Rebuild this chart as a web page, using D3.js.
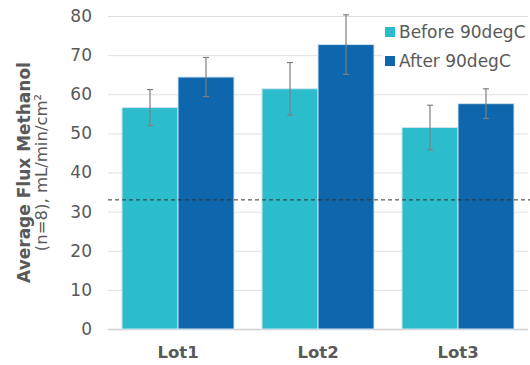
<!DOCTYPE html>
<html>
<head>
<meta charset="utf-8">
<script src="https://cdn.jsdelivr.net/npm/d3@7"></script>
<style>
  html, body { margin: 0; padding: 0; background: #fff; }
  svg { display: block; font-family: "DejaVu Sans", Verdana, sans-serif; }
</style>
</head>
<body>
<svg id="chart" width="530" height="365"></svg>
<script>
// Average methanol flux per lot, before and after the 90degC treatment
const lots = ["Lot1", "Lot2", "Lot3"];
const seriesNames = ["Before 90degC", "After 90degC"];
const beforeValues = [56.6, 61.4, 51.5];
const afterValues = [64.4, 72.7, 57.6];
const beforeErrors = [4.6, 6.7, 5.7];
const afterErrors = [5.0, 7.6, 3.8];
const yTicks = [0, 10, 20, 30, 40, 50, 60, 70, 80];
const referenceLevel = 33;

const colors = ["#2bbdcb", "#0e66ac"];
const textGrey = "#595959";

const svg = d3.select("#chart");
const margin = { top: 16, right: 2, bottom: 36, left: 108 };
const width = 530 - margin.left - margin.right;
const height = 365 - margin.top - margin.bottom;

const g = svg.append("g").attr("transform", `translate(${margin.left},${margin.top})`);

const x0 = d3.scaleBand().domain(lots).range([0, width]).paddingInner(0.2).paddingOuter(0.1);
const x1 = d3.scaleBand().domain(seriesNames).range([0, x0.bandwidth()]);
const y = d3.scaleLinear().domain([0, 80]).range([height, 0]);

// horizontal gridlines
g.append("g")
  .selectAll("line")
  .data(yTicks)
  .join("line")
  .attr("x1", 0)
  .attr("x2", width)
  .attr("y1", d => y(d) + 0.5)
  .attr("y2", d => y(d) + 0.5)
  .attr("stroke", d => d === 0 ? "#d0d0d0" : "#e0e0e0")
  .attr("stroke-width", d => d === 0 ? 1.5 : 1);

// y axis tick labels
const yAxis = d3.axisLeft(y).tickValues(yTicks).tickSize(0).tickPadding(16);
g.append("g")
  .call(yAxis)
  .call(a => a.select(".domain").remove())
  .selectAll("text")
  .attr("fill", textGrey)
  .style("font-size", "17px")
  .style("font-family", "'DejaVu Sans', Verdana, sans-serif");

// bars
const rows = lots.map((lot, i) => ({
  lot,
  bars: [
    { name: seriesNames[0], value: beforeValues[i], err: beforeErrors[i], color: colors[0] },
    { name: seriesNames[1], value: afterValues[i], err: afterErrors[i], color: colors[1] }
  ]
}));

const groups = g.append("g")
  .selectAll("g")
  .data(rows)
  .join("g")
  .attr("transform", d => `translate(${x0(d.lot)},0)`);

groups.selectAll("rect")
  .data(d => d.bars)
  .join("rect")
  .attr("x", d => x1(d.name))
  .attr("width", x1.bandwidth())
  .attr("y", d => y(d.value))
  .attr("height", d => y(0) - y(d.value))
  .attr("fill", d => d.color)
  .attr("stroke", "#cfe2ee")
  .attr("stroke-width", 1);

// error bars
const capHalf = 3;
const err = groups.selectAll("g.err")
  .data(d => d.bars)
  .join("g")
  .attr("class", "err")
  .attr("stroke", "#7f7f7f")
  .attr("stroke-width", 1.2);

err.append("line")
  .attr("x1", d => x1(d.name) + x1.bandwidth() / 2)
  .attr("x2", d => x1(d.name) + x1.bandwidth() / 2)
  .attr("y1", d => y(d.value + d.err))
  .attr("y2", d => y(d.value - d.err));
err.append("line")
  .attr("x1", d => x1(d.name) + x1.bandwidth() / 2 - capHalf)
  .attr("x2", d => x1(d.name) + x1.bandwidth() / 2 + capHalf)
  .attr("y1", d => y(d.value + d.err))
  .attr("y2", d => y(d.value + d.err));
err.append("line")
  .attr("x1", d => x1(d.name) + x1.bandwidth() / 2 - capHalf)
  .attr("x2", d => x1(d.name) + x1.bandwidth() / 2 + capHalf)
  .attr("y1", d => y(d.value - d.err))
  .attr("y2", d => y(d.value - d.err));

// dashed reference level
g.append("line")
  .attr("x1", 0)
  .attr("x2", width + margin.right)
  .attr("y1", y(referenceLevel))
  .attr("y2", y(referenceLevel))
  .attr("stroke", "#333")
  .attr("stroke-width", 1)
  .attr("stroke-dasharray", "4,3");

// category labels
const xAxis = d3.axisBottom(x0).tickSize(0).tickPadding(17);
g.append("g")
  .attr("transform", `translate(0,${height})`)
  .call(xAxis)
  .call(a => a.select(".domain").remove())
  .selectAll("text")
  .attr("fill", textGrey)
  .style("font-size", "16.5px")
  .style("font-weight", "bold")
  .style("font-family", "'DejaVu Sans', Verdana, sans-serif");

// y axis title
const cy = margin.top + height / 2;
const title = svg.append("text")
  .attr("transform", `translate(30,${cy}) rotate(-90)`)
  .attr("text-anchor", "middle")
  .attr("fill", textGrey)
  .style("font-size", "17px");
title.append("tspan")
  .attr("x", 0)
  .attr("y", 0)
  .style("font-weight", "bold")
  .text("Average Flux Methanol");
title.append("tspan")
  .attr("x", 0)
  .attr("y", 17)
  .style("font-size", "16.5px")
  .text("(n=8), mL/min/cm²");

// legend
const legend = svg.append("g").attr("transform", "translate(383,20)");
legend.append("rect")
  .attr("x", 0)
  .attr("y", 0)
  .attr("width", 145)
  .attr("height", 54)
  .attr("fill", "#fff");
const items = legend.selectAll("g.item")
  .data(seriesNames)
  .join("g")
  .attr("class", "item")
  .attr("transform", (d, i) => `translate(0,${12 + i * 29})`);
items.append("rect")
  .attr("x", 2)
  .attr("y", -5)
  .attr("width", 10)
  .attr("height", 10)
  .attr("fill", (d, i) => colors[i]);
items.append("text")
  .attr("x", 16)
  .attr("y", 5.5)
  .attr("fill", textGrey)
  .style("font-size", "17px")
  .text(d => d);
</script>
</body>
</html>
